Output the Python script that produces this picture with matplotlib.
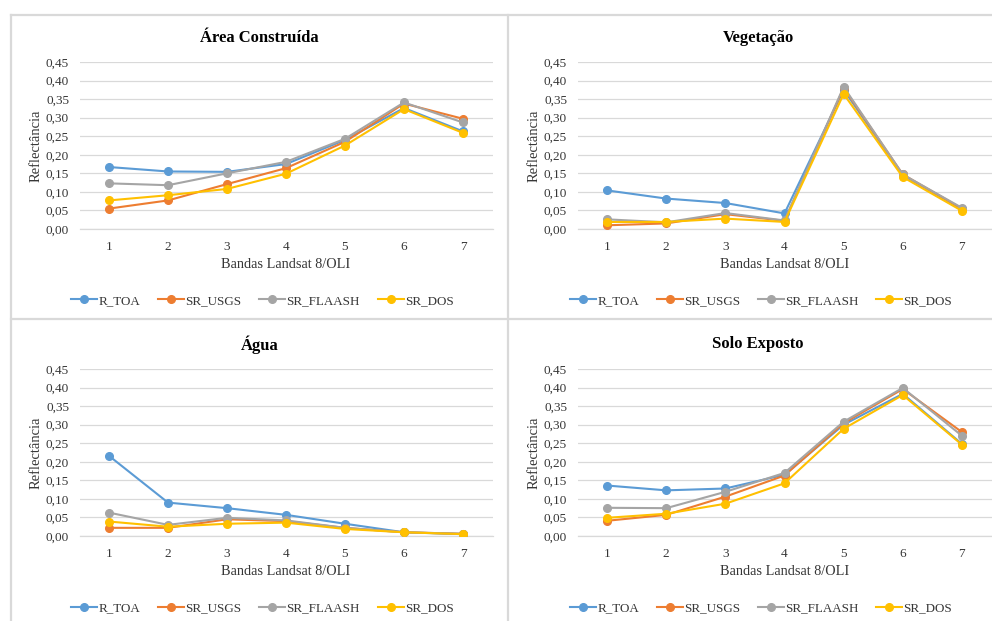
import matplotlib
matplotlib.use("Agg")
import matplotlib.pyplot as plt
from matplotlib.lines import Line2D

plt.rcParams['font.family'] = ['Liberation Serif', 'DejaVu Serif']

bands = [1, 2, 3, 4, 5, 6, 7]
series_names = ["R_TOA", "SR_USGS", "SR_FLAASH", "SR_DOS"]
colors = ["#5B9BD5", "#ED7D31", "#A5A5A5", "#FFC000"]
yticks = [0.00, 0.05, 0.10, 0.15, 0.20, 0.25, 0.30, 0.35, 0.40, 0.45]
ytick_labels = ["0,00", "0,05", "0,10", "0,15", "0,20", "0,25", "0,30", "0,35", "0,40", "0,45"]

titles = ["Área Construída", "Vegetação", "Água", "Solo Exposto"]

area_r_toa = [0.167, 0.155, 0.154, 0.175, 0.240, 0.326, 0.263]
area_sr_usgs = [0.055, 0.077, 0.121, 0.164, 0.235, 0.338, 0.297]
area_sr_flaash = [0.123, 0.118, 0.150, 0.181, 0.243, 0.341, 0.287]
area_sr_dos = [0.077, 0.091, 0.108, 0.149, 0.225, 0.323, 0.259]

veg_r_toa = [0.104, 0.082, 0.070, 0.042, 0.375, 0.145, 0.054]
veg_sr_usgs = [0.010, 0.015, 0.040, 0.022, 0.380, 0.147, 0.055]
veg_sr_flaash = [0.026, 0.018, 0.043, 0.023, 0.383, 0.147, 0.057]
veg_sr_dos = [0.019, 0.019, 0.028, 0.019, 0.364, 0.140, 0.049]

agua_r_toa = [0.216, 0.090, 0.075, 0.057, 0.033, 0.010, 0.005]
agua_sr_usgs = [0.022, 0.022, 0.045, 0.040, 0.022, 0.010, 0.006]
agua_sr_flaash = [0.063, 0.030, 0.049, 0.042, 0.022, 0.010, 0.006]
agua_sr_dos = [0.039, 0.025, 0.033, 0.036, 0.019, 0.010, 0.005]

solo_r_toa = [0.136, 0.123, 0.128, 0.165, 0.300, 0.383, 0.248]
solo_sr_usgs = [0.041, 0.057, 0.106, 0.163, 0.304, 0.396, 0.280]
solo_sr_flaash = [0.076, 0.075, 0.119, 0.170, 0.308, 0.399, 0.270]
solo_sr_dos = [0.049, 0.060, 0.087, 0.142, 0.289, 0.380, 0.246]

panels = [
    [area_r_toa, area_sr_usgs, area_sr_flaash, area_sr_dos],
    [veg_r_toa, veg_sr_usgs, veg_sr_flaash, veg_sr_dos],
    [agua_r_toa, agua_sr_usgs, agua_sr_flaash, agua_sr_dos],
    [solo_r_toa, solo_sr_usgs, solo_sr_flaash, solo_sr_dos],
]

W, H = 992, 621
fig = plt.figure(figsize=(W / 100, H / 100), dpi=100)

# panel borders (pixel coordinates)
border_color = "#D9D9D9"
def hline(y, x0, x1):
    fig.add_artist(Line2D([x0 / W, x1 / W], [1 - y / H, 1 - y / H], color=border_color, lw=1.6))
def vline(x, y0, y1):
    fig.add_artist(Line2D([x / W, x / W], [1 - y0 / H, 1 - y1 / H], color=border_color, lw=1.6))

hline(15, 10.5, W)
hline(319, 10.5, W)
vline(10.5, 15, H)
vline(507.5, 15, H)

# axes geometry in pixels: (left, right, top, bottom)
geo = [
    (79.5, 492.5, 62, 229),
    (577.5, 991.5, 62, 229),
    (79.5, 492.5, 369, 536),
    (577.5, 991.5, 369, 536),
]
title_pos = [(259.5, 37.5), (758, 37.5), (259.5, 344.5), (758, 344.5)]

tick_color = "#363636"
for i, (data, (l, r, t, b)) in enumerate(zip(panels, geo)):
    ax = fig.add_axes([l / W, 1 - b / H, (r - l) / W, (b - t) / H])
    for vals, name, c in zip(data, series_names, colors):
        ax.plot(bands, vals, color=c, lw=1.5, marker='o', markersize=5.5, label=name, zorder=3)
    ax.set_xlim(0.5, 7.5)
    ax.set_ylim(0, 0.45)
    ax.set_yticks(yticks)
    ax.set_yticklabels(ytick_labels)
    ax.set_xticks(bands)
    ax.grid(axis='y', color="#D9D9D9", lw=0.9)
    ax.set_axisbelow(True)
    for s in ['top', 'right', 'left']:
        ax.spines[s].set_visible(False)
    ax.spines['bottom'].set_color("#D9D9D9")
    ax.spines['bottom'].set_linewidth(0.9)
    ax.tick_params(axis='both', length=0, labelsize=9.5, colors=tick_color)
    ax.tick_params(axis='y', pad=7.5)
    ax.tick_params(axis='x', pad=8.5)
    ax.set_xlabel("Bandas Landsat 8/OLI", fontsize=10.3, color=tick_color, labelpad=4)
    ax.set_ylabel("Reflectância", fontsize=10.5, color=tick_color, labelpad=2)
    tx, ty = title_pos[i]
    fig.text(tx / W, 1 - ty / H, titles[i], fontsize=12, fontweight='bold', color="black",
             ha='center', va='center')
    cx = (l + r) / 2 - 23.5
    ly = b + 72
    ax.legend(loc='center', bbox_to_anchor=(cx / W, 1 - ly / H), bbox_transform=fig.transFigure,
              ncol=4, frameon=False, fontsize=9.4, handlelength=2.0, handletextpad=0.1,
              columnspacing=1.35, labelcolor=tick_color)

fig.savefig("out.png", dpi=100, facecolor="white")
